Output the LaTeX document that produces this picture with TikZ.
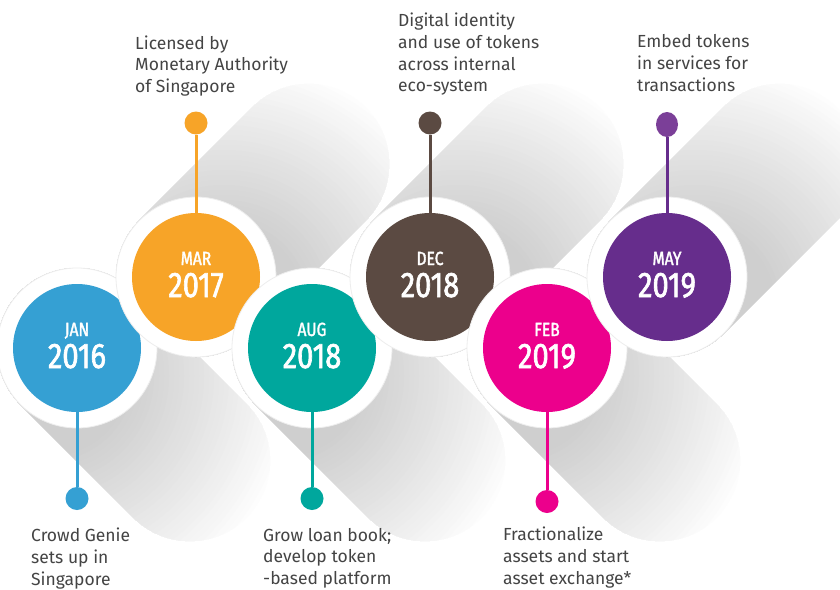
\documentclass[tikz,border=0pt]{standalone}
\usepackage{fontspec}
\setmainfont{Fira Sans}
\newfontfamily\datefont{Fira Sans}[FakeStretch=0.82, FakeBold=1.8]
\usetikzlibrary{shapes.geometric}
\definecolor{cblue}{HTML}{35A0D3}
\definecolor{corange}{HTML}{F7A428}
\definecolor{cteal}{HTML}{00A79D}
\definecolor{cbrown}{HTML}{5B4A42}
\definecolor{cmagenta}{HTML}{EC008C}
\definecolor{cpurple}{HTML}{662D8C}
\definecolor{cpurpledot}{HTML}{7B3F98}
\definecolor{txt}{HTML}{444444}
\definecolor{bandgray}{HTML}{CFCFCF}
\tikzset{
  ring/.style={circle, fill=white, draw=black!7, line width=0.8pt, minimum size=160pt, inner sep=0pt},
  disk/.style={circle, minimum size=128pt, inner sep=0pt},
  dot/.style={circle, minimum size=23pt, inner sep=0pt},
  stem/.style={line width=3pt},
  month/.style={anchor=base, text=white, inner sep=0pt, font=\datefont\fontsize{19}{19}\selectfont},
  year/.style={anchor=base, text=white, inner sep=0pt, font=\datefont\fontsize{35.5}{36}\selectfont},
  desc/.style={anchor=north west, align=left, inner sep=0pt, text=txt, font=\fontsize{17.5}{21.6}\selectfont},
}
% #1 circle centre, #2 direction angle, #3 offset of the gradient centre (toward the darker edge)
\newcommand\shadowband[3]{%
  \begin{scope}
    \clip[shift={(#1)}, rotate=#2] (0,80) -- (160,80) arc[start angle=90, end angle=-90, radius=80] -- (0,-80) arc[start angle=270, end angle=90, radius=80] -- cycle;
    \begin{scope}[shift={(#1)}]
      \foreach \k in {0,...,34} {
        \pgfmathsetmacro\rr{250-5*\k}
        \pgfmathsetmacro\pp{min(100,100*pow(5*\k/170,0.9))}
        \fill[bandgray!\pp!white] (#3) circle[radius=\rr];
      }
    \end{scope}
  \end{scope}}
\begin{document}
\begin{tikzpicture}[x=1pt, y=-1pt]
\useasboundingbox (0,0) rectangle (840,589);
\fill[white] (0,0) rectangle (840,589);
\coordinate (c1) at (77,348);
\coordinate (c2) at (196,277);
\coordinate (c3) at (312,348);
\coordinate (c4) at (430,277);
\coordinate (c5) at (547,348);
\coordinate (c6) at (667,277);
% shadows
\shadowband{c1}{-45}{-28,28}
\shadowband{c3}{-45}{-28,28}
\shadowband{c5}{-45}{-28,28}
\shadowband{c2}{45}{28,28}
\shadowband{c4}{45}{28,28}
\shadowband{c6}{45}{28,28}
% circle 1
\node[ring] (r1) at (c1) {};
\node[dot, fill=cblue] (d1) at (77,498.5) {};
\draw[stem, cblue] (c1) -- (d1);
\node[disk, fill=cblue] (n1) at (c1) {};
\node[month] (m1) at (77,336) {JAN};
\node[year] (y1) at (77,368) {2016};
% circle 2
\node[ring] (r2) at (c2) {};
\node[dot, fill=corange] (d2) at (196,123) {};
\draw[stem, corange] (c2) -- (d2);
\node[disk, fill=corange] (n2) at (c2) {};
\node[month] (m2) at (196,265) {MAR};
\node[year] (y2) at (196,297) {2017};
% circle 3
\node[ring] (r3) at (c3) {};
\node[dot, fill=cteal] (d3) at (312,498.5) {};
\draw[stem, cteal] (c3) -- (d3);
\node[disk, fill=cteal] (n3) at (c3) {};
\node[month] (m3) at (312,336) {AUG};
\node[year] (y3) at (312,368) {2018};
% circle 4
\node[ring] (r4) at (c4) {};
\node[dot, fill=cbrown] (d4) at (430,123) {};
\draw[stem, cbrown] (c4) -- (d4);
\node[disk, fill=cbrown] (n4) at (c4) {};
\node[month] (m4) at (430,265) {DEC};
\node[year] (y4) at (430,297) {2018};
% circle 5
\node[ring] (r5) at (c5) {};
\node[dot, fill=cmagenta] (d5) at (547,501.5) {};
\draw[stem, cmagenta] (c5) -- (d5);
\node[disk, fill=cmagenta] (n5) at (c5) {};
\node[month] (m5) at (547,336) {FEB};
\node[year] (y5) at (547,368) {2019};
% circle 6
\node[ring] (r6) at (c6) {};
\node[dot, ellipse, fill=cpurpledot, minimum width=22pt, minimum height=25pt] (d6) at (667,124.5) {};
\draw[stem, cpurple] (c6) -- (d6);
\node[disk, fill=cpurple] (n6) at (c6) {};
\node[month] (m6) at (667,265) {MAY};
\node[year] (y6) at (667,297) {2019};
% descriptions
\node[desc] (t1) at (31,528) {Crowd Genie\\sets up in\\Singapore};
\node[desc] (t2) at (135,35.5) {Licensed by\\Monetary Authority\\of Singapore};
\node[desc] (t3) at (263,528) {Grow loan book;\\develop token\\-based platform};
\node[desc] (t4) at (398,13) {Digital identity\\and use of tokens\\across internal\\eco-system};
\node[desc] (t5) at (503,527) {Fractionalize\\assets and start\\asset exchange*};
\node[desc] (t6) at (637,34.5) {Embed tokens\\in services for\\transactions};
\end{tikzpicture}
\end{document}
